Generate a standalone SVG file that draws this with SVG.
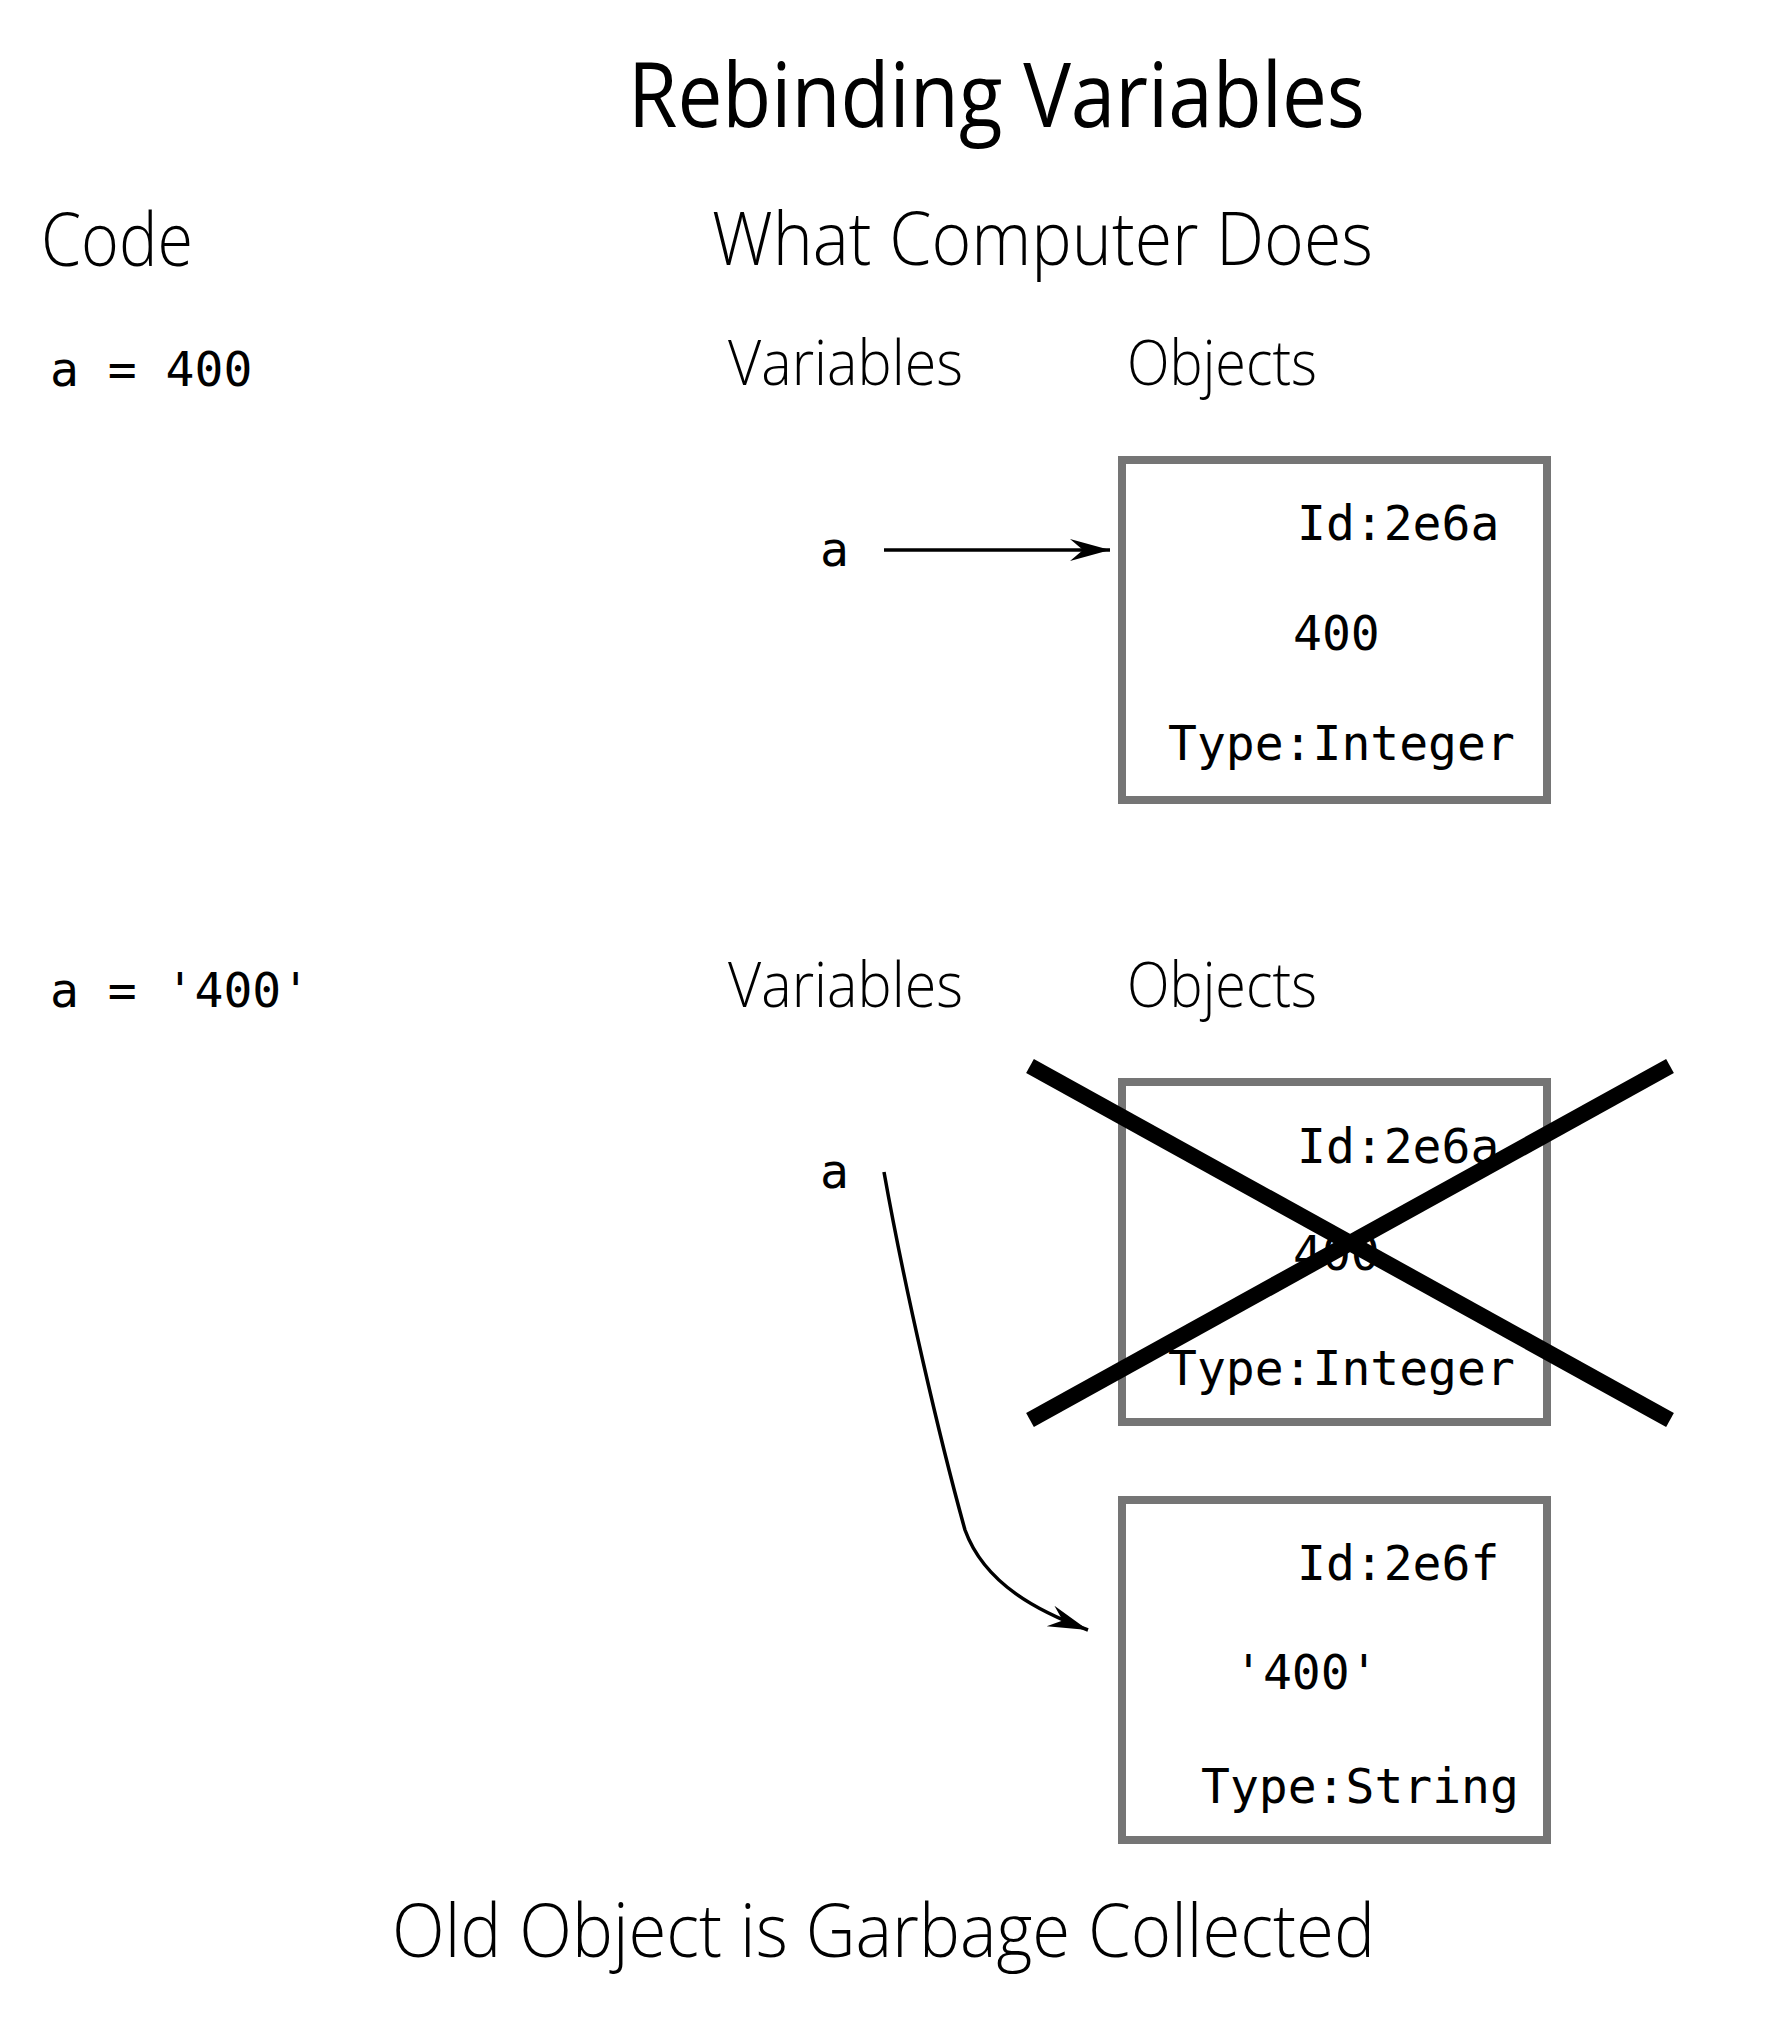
<svg xmlns="http://www.w3.org/2000/svg" width="1778" height="2040" viewBox="0 0 1778 2040">
<style>
.title{font-family:"Open Sans","Liberation Sans",sans-serif;font-weight:400;font-size:90px;fill:#000}
.head{font-family:"Open Sans","Liberation Sans",sans-serif;font-weight:300;font-size:74px;fill:#000}
.sub{font-family:"Open Sans","Liberation Sans",sans-serif;font-weight:300;font-size:62px;fill:#000}
.mono{font-family:"DejaVu Sans Mono","Liberation Mono",monospace;font-size:48px;fill:#000}
.box{fill:#fff;stroke:#757575;stroke-width:8}
.conn{fill:none;stroke:#000;stroke-width:3.5}
.cross{stroke:#000;stroke-width:16;stroke-linecap:butt}
</style>
<defs>
<marker id="arr" markerUnits="userSpaceOnUse" markerWidth="44" markerHeight="26" viewBox="-40 -13 44 26" refX="0" refY="0" orient="auto">
<path d="M0,0 L-40,-11 L-27,0 L-40,11 Z" fill="#000"/>
</marker>
</defs>
<rect width="1778" height="2040" fill="#fff"/>
<g id="headings">
<text class="title" x="628" y="127" textLength="737" lengthAdjust="spacingAndGlyphs">Rebinding Variables</text>
<text class="head" x="41" y="266" textLength="152" lengthAdjust="spacingAndGlyphs">Code</text>
<text class="head" x="712" y="265" textLength="661" lengthAdjust="spacingAndGlyphs">What Computer Does</text>
<text class="head" x="392" y="1957" textLength="983" lengthAdjust="spacingAndGlyphs">Old Object is Garbage Collected</text>
</g>
<g id="step1">
<text class="mono" x="50" y="386">a = 400</text>
<text class="sub" x="728" y="385" textLength="235" lengthAdjust="spacingAndGlyphs">Variables</text>
<text class="sub" x="1127" y="385" textLength="190" lengthAdjust="spacingAndGlyphs">Objects</text>
</g>
<g id="var-a-1">
<text class="mono" x="820" y="566">a</text>
</g>
<g id="obj-2e6a-1">
<rect class="box" x="1122" y="460" width="425" height="340"/>
<text class="mono" x="1297" y="540">Id:2e6a</text>
<text class="mono" x="1293" y="650">400</text>
<text class="mono" x="1168" y="760">Type:Integer</text>
</g>
<g id="step2">
<text class="mono" x="50" y="1007">a = '400'</text>
<text class="sub" x="728" y="1007" textLength="235" lengthAdjust="spacingAndGlyphs">Variables</text>
<text class="sub" x="1127" y="1007" textLength="190" lengthAdjust="spacingAndGlyphs">Objects</text>
</g>
<g id="var-a-2">
<text class="mono" x="820" y="1188">a</text>
</g>
<g id="obj-2e6a-2">
<rect class="box" x="1122" y="1082" width="425" height="340"/>
<text class="mono" x="1297" y="1163">Id:2e6a</text>
<text class="mono" x="1293" y="1270">400</text>
<text class="mono" x="1168" y="1385">Type:Integer</text>
</g>
<g id="obj-2e6f">
<rect class="box" x="1122" y="1500" width="425" height="340"/>
<text class="mono" x="1297" y="1580">Id:2e6f</text>
<text class="mono" x="1234" y="1689">'400'</text>
<text class="mono" x="1201" y="1803">Type:String</text>
</g>
<g id="cross-out">
<line class="cross" x1="1030" y1="1066" x2="1670" y2="1420"/>
<line class="cross" x1="1670" y1="1066" x2="1030" y2="1420"/>
</g>
<g id="connectors">
<line class="conn" x1="884" y1="550" x2="1110" y2="550" marker-end="url(#arr)"/>
<path class="conn" d="M884,1172 C905,1290 940,1440 965,1530 C985,1585 1040,1612 1088,1630" marker-end="url(#arr)"/>
</g>
</svg>
